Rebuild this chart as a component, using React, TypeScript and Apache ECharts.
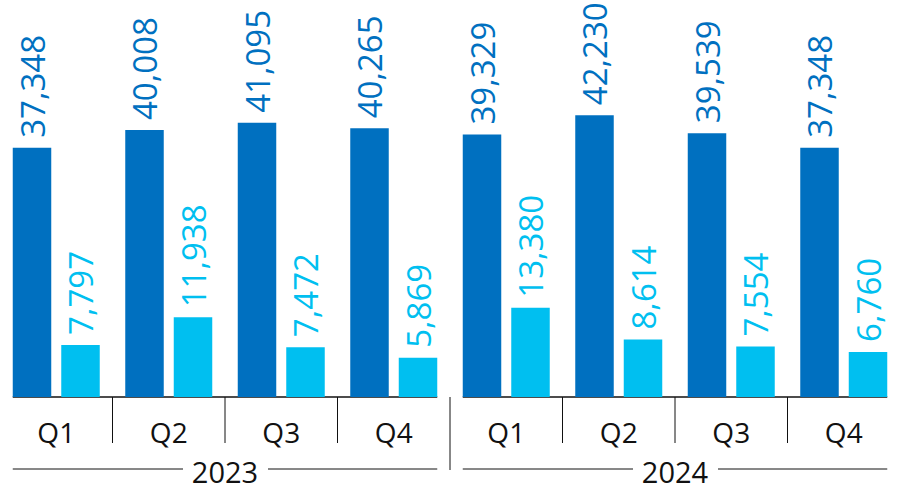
import React, { useEffect, useRef } from 'react';
import * as echarts from 'echarts';

const quarters = ['Q1', 'Q2', 'Q3', 'Q4'];
const years = ['2023', '2024'];
const categories = years.flatMap((y) => quarters.map((q) => `${q}|${y}`));
const darkValues = [37348, 40008, 41095, 40265, 39329, 42230, 39539, 37348];
const lightValues = [7797, 11938, 7472, 5869, 13380, 8614, 7554, 6760];

const DARK = '#0070c0';
const LIGHT = '#00bff0';
const BAR_W = 38.5;
const BAR_GAP = 10;
const FONT = '"Open Sans", "Noto Sans", sans-serif';

export default function App() {
  const ref = useRef<HTMLDivElement>(null);
  useEffect(() => {
    if (!ref.current) return;
    const chart = echarts.init(ref.current, undefined, { renderer: 'svg' });
    const fmt = (p: any) => Number(p.value).toLocaleString('en-US');
    const label = (color: string) => ({
      show: true,
      position: 'top',
      rotate: 90,
      align: 'left',
      verticalAlign: 'middle',
      distance: 10,
      fontSize: 33,
      fontFamily: FONT,
      color,
      formatter: fmt,
    });
    chart.setOption({
      animation: false,
      grid: { left: 0, width: 900, top: 10, bottom: 100, containLabel: false },
      xAxis: [
        {
          type: 'category',
          data: categories,
          axisLine: { show: false },
          axisTick: { show: false },
          axisLabel: {
            formatter: (v: string) => v.split('|')[0],
            fontSize: 28,
            fontFamily: FONT,
            color: '#111',
            margin: 21,
          },
        },
        {
          type: 'category',
          data: years,
          position: 'bottom',
          offset: 52,
          axisLine: { show: false },
          axisTick: { show: false },
          axisLabel: { fontSize: 29, fontFamily: FONT, color: '#111', margin: 8 },
        },
      ],
      yAxis: { type: 'value', min: 0, max: 58000, show: false, splitLine: { show: false } },
      series: [
        {
          type: 'bar',
          data: darkValues,
          barWidth: BAR_W,
          barGap: `${(BAR_GAP / BAR_W) * 100}%`,
          itemStyle: { color: DARK },
          label: label(DARK),
        },
        {
          type: 'bar',
          data: lightValues,
          barWidth: BAR_W,
          itemStyle: { color: LIGHT },
          label: label(LIGHT),
        },
      ],
    });

    const cx = categories.map((_, i) => chart.convertToPixel({ xAxisIndex: 0 }, i) as number);
    const base = chart.convertToPixel({ yAxisIndex: 0 }, 0) as number;
    const yc = years.map((_, i) => chart.convertToPixel({ xAxisIndex: 1 }, i) as number);
    const half = BAR_W + BAR_GAP / 2;
    const line = (x1: number, y1: number, x2: number, y2: number, w = 1) => ({
      type: 'line',
      shape: { x1, y1, x2, y2 },
      style: { stroke: '#111', lineWidth: w },
      silent: true,
    });
    const elems: any[] = [];
    years.forEach((_, g) => {
      const first = g * quarters.length;
      const last = first + quarters.length - 1;
      const xs = cx[first] - half;
      const xe = cx[last] + half;
      elems.push(line(xs, base, xe, base, 1.6));
      for (let i = first; i < last; i++) {
        const bx = (cx[i] + cx[i + 1]) / 2;
        elems.push(line(bx, base, bx, base + 46));
      }
      const ly = base + 72;
      elems.push(line(xs, ly, yc[g] - 42, ly));
      elems.push(line(yc[g] + 43, ly, xe, ly));
      if (g < years.length - 1) {
        const sx = (cx[last] + cx[last + 1]) / 2;
        elems.push(line(sx, base, sx, base + 73));
      }
    });
    chart.setOption({ graphic: elems });

    return () => chart.dispose();
  }, []);
  return (
    <div
      ref={ref}
      style={{ position: 'fixed', left: 0, top: 0, width: 901, height: 497, background: '#fff' }}
    />
  );
}
